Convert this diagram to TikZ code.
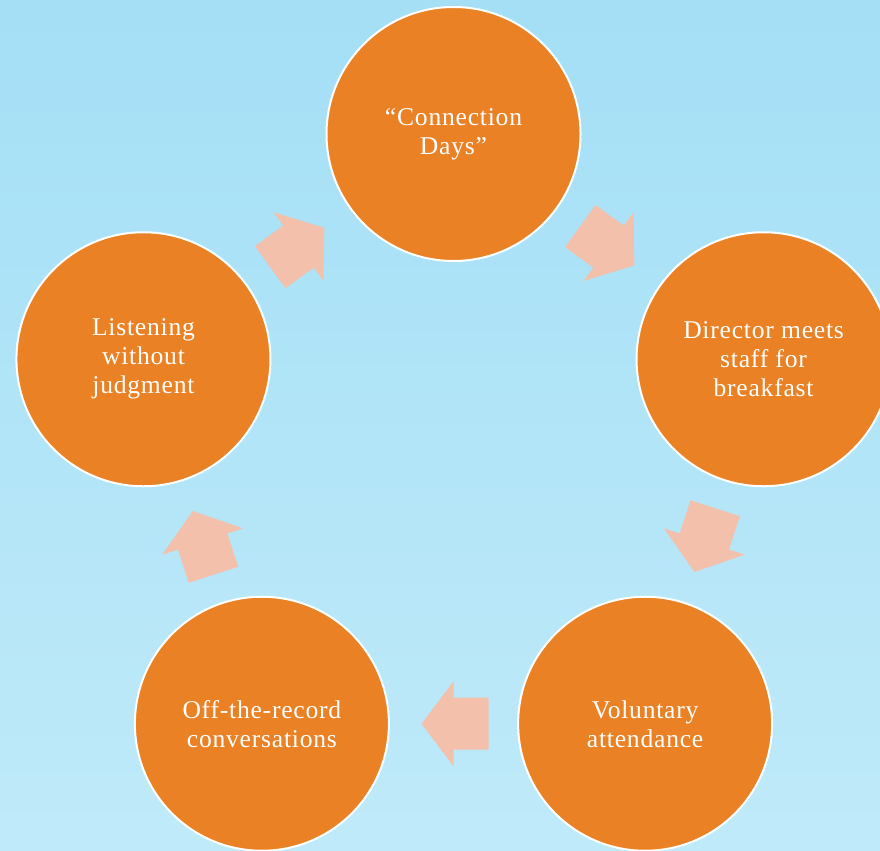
\documentclass[tikz,border=0pt]{standalone}
\usepackage{fontspec}
\setmainfont{Liberation Serif}[LetterSpace=3]
\usetikzlibrary{calc}
\definecolor{bgtop}{RGB}{164,223,246}
\definecolor{bgbot}{RGB}{191,234,249}
\definecolor{orangefill}{RGB}{235,129,37}
\definecolor{arrowfill}{RGB}{243,193,171}
\begin{document}
\begin{tikzpicture}[x=0.75pt,y=0.75pt,
  stage/.style={circle, fill=orangefill, draw=white, line width=1.5pt,
    minimum size=190.5pt, inner sep=0pt, outer sep=0pt, text=white,
    align=center, font=\fontsize{19.2}{21.75}\selectfont},
  blockarrow/.style={fill=arrowfill}]
\useasboundingbox (0,0) rectangle (880,850);
\clip (0,0) rectangle (880,850);
\shade[top color=bgtop, bottom color=bgbot] (0,0) rectangle (880,850);
\coordinate (C) at (453.5,390);
\node[stage] (n1) at ($(C)+(90:326)$) {“Connection\\Days”};
\node[stage] (n2) at ($(C)+(18:326)$) {Director meets\\staff for\\breakfast};
\node[stage] (n3) at ($(C)+(-54:326)$) {Voluntary\\attendance};
\node[stage] (n4) at ($(C)+(-126:326)$) {Off-the-record\\conversations};
\node[stage] (n5) at ($(C)+(162:326)$) {Listening\\without\\judgment};
\foreach \a/\b/\ang in {n1/n2/-36, n2/n3/-108, n3/n4/-180, n4/n5/108, n5/n1/36}{
  \fill[blockarrow, shift={($(\a)!0.5!(\b)$)}, rotate=\ang]
    (-35,-26) -- (0,-26) -- (0,-42.5) -- (32,0) -- (0,42.5) -- (0,26) -- (-35,26) -- cycle;
}
\end{tikzpicture}
\end{document}
